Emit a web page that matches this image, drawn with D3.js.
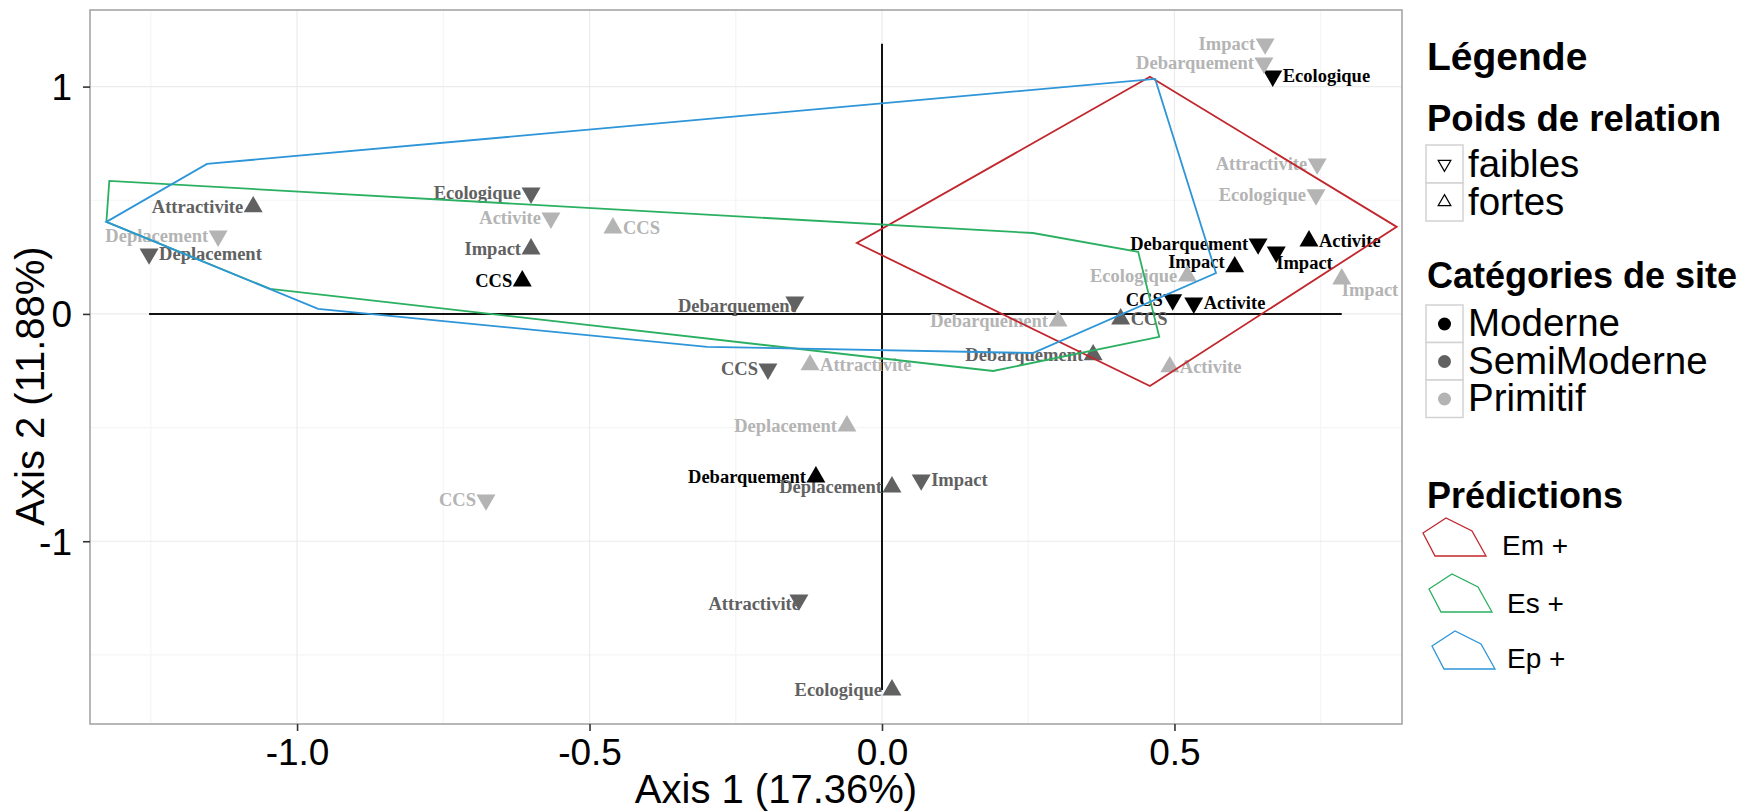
<!DOCTYPE html>
<html>
<head>
<meta charset="utf-8">
<script src="https://cdn.jsdelivr.net/npm/d3@7"></script>
<style>
  body { margin: 0; background: #fff; }
  svg { display: block; }
</style>
</head>
<body>
<svg width="1744" height="812"></svg>
<script>
// one entry per plotted variable level
const pointNames = [
  'CCS', 'Debarquement', 'Impact', 'Activite', 'Impact', 'CCS', 'Activite', 'Ecologique', 'Debarquement',
  'Attractivite', 'Deplacement', 'Ecologique', 'Impact', 'Debarquement', 'CCS', 'CCS', 'Debarquement',
  'Deplacement', 'Impact', 'Attractivite', 'Ecologique',
  'Deplacement', 'Activite', 'CCS', 'Attractivite', 'Debarquement', 'Impact', 'Debarquement', 'Attractivite',
  'Ecologique', 'Ecologique', 'Impact', 'Activite', 'CCS', 'Deplacement'
];
const pointSites = [
  'Moderne', 'Moderne', 'Moderne', 'Moderne', 'Moderne', 'Moderne', 'Moderne', 'Moderne', 'Moderne',
  'SemiModerne', 'SemiModerne', 'SemiModerne', 'SemiModerne', 'SemiModerne', 'SemiModerne', 'SemiModerne',
  'SemiModerne', 'SemiModerne', 'SemiModerne', 'SemiModerne', 'SemiModerne',
  'Primitif', 'Primitif', 'Primitif', 'Primitif', 'Primitif', 'Primitif', 'Primitif', 'Primitif',
  'Primitif', 'Primitif', 'Primitif', 'Primitif', 'Primitif', 'Primitif'
];
const pointWeights = [
  'fortes', 'faibles', 'faibles', 'fortes', 'fortes', 'faibles', 'faibles', 'faibles', 'fortes',
  'fortes', 'faibles', 'faibles', 'fortes', 'faibles', 'faibles', 'fortes', 'fortes',
  'fortes', 'faibles', 'faibles', 'fortes',
  'faibles', 'faibles', 'fortes', 'fortes', 'fortes', 'faibles', 'faibles', 'faibles',
  'faibles', 'fortes', 'fortes', 'fortes', 'faibles', 'fortes'
];
const axis1 = [
  -0.615, 0.643, 0.674, 0.730, 0.603, 0.497, 0.533, 0.668, -0.113,
  -1.075, -1.253, -0.600, -0.600, -0.149, -0.195, 0.408, 0.361,
  0.017, 0.067, -0.142, 0.017,
  -1.135, -0.566, -0.460, -0.123, 0.301, 0.655, 0.653, 0.744,
  0.742, 0.522, 0.786, 0.492, -0.677, -0.060
];
const axis2 = [
  0.145, 0.308, 0.272, 0.321, 0.207, 0.062, 0.048, 1.047, -0.717,
  0.471, 0.264, 0.532, 0.286, 0.053, -0.242, -0.022, -0.180,
  -0.761, -0.730, -1.258, -1.654,
  0.343, 0.422, 0.378, -0.224, -0.031, 1.188, 1.104, 0.660,
  0.524, 0.167, 0.154, -0.233, -0.818, -0.493
];
// label justification, like hjust/vjust in the original plot
const labelSide = [
  'l', 'l', 'rd', 'r', 'lu', 'l', 'r', 'r', 'l',
  'l', 'r', 'l', 'l', 'ld', 'l', 'r', 'l',
  'l', 'r', 'ld', 'l',
  'l', 'l', 'r', 'r', 'l', 'l', 'l', 'l',
  'l', 'l', 'rd', 'r', 'l', 'l'
];

// convex hulls of the predictions
const hullNames = ['Em +', 'Es +', 'Ep +'];
const hullEm = [[0.458, 1.043], [0.880, 0.383], [0.458, -0.317], [-0.043, 0.312]];
const hullEs = [[-1.321, 0.585], [-1.326, 0.405], [-1.046, 0.110], [0.190, -0.251],
  [0.474, -0.101], [0.438, 0.273], [0.258, 0.356]];
const hullEp = [[-1.326, 0.405], [-1.154, 0.660], [0.467, 1.034], [0.571, 0.180],
  [0.258, -0.172], [-0.299, -0.145], [-0.964, 0.022]];

const xTicks = [-1.0, -0.5, 0.0, 0.5];
const xTickLabels = ['-1.0', '-0.5', '0.0', '0.5'];
const xMinorTicks = [-1.25, -0.75, -0.25, 0.25, 0.75];
const yTicks = [-1, 0, 1];
const yTickLabels = ['-1', '0', '1'];
const yMinorTicks = [-1.5, -0.5, 0.5];

const siteNames = ['Moderne', 'SemiModerne', 'Primitif'];
const weightNames = ['faibles', 'fortes'];

function createChart() {
  const svg = d3.select('svg');
  const left = 90, right = 1402, top = 10, bottom = 724;

  const xScale = d3.scaleLinear()
      .domain([-1.354, 0.889])
      .range([left, right]);
  const yScale = d3.scaleLinear()
      .domain([-1.804, 1.337])
      .range([bottom, top]);
  const siteColor = d3.scaleOrdinal()
      .domain(siteNames)
      .range(['#000000', '#616161', '#b4b4b4']);
  const hullColor = d3.scaleOrdinal()
      .domain(hullNames)
      .range(['#c1272d', '#2bb062', '#2d95d8']);

  const points = pointNames.map((name, i) => ({
    name: name,
    site: pointSites[i],
    weight: pointWeights[i],
    x: axis1[i],
    y: axis2[i],
    side: labelSide[i]
  }));

  const chart = svg.append('g').attr('class', 'chart');

  // grid
  const grid = chart.append('g').attr('class', 'grid');
  grid.selectAll('line.minorx')
      .data(xMinorTicks)
      .join('line')
      .attr('x1', d => xScale(d)).attr('x2', d => xScale(d))
      .attr('y1', top).attr('y2', bottom)
      .attr('stroke', '#f5f5f5').attr('stroke-width', 1.2);
  grid.selectAll('line.minory')
      .data(yMinorTicks)
      .join('line')
      .attr('x1', left).attr('x2', right)
      .attr('y1', d => yScale(d)).attr('y2', d => yScale(d))
      .attr('stroke', '#f5f5f5').attr('stroke-width', 1.2);
  grid.selectAll('line.majorx')
      .data(xTicks)
      .enter().append('line')
      .attr('x1', d => xScale(d)).attr('x2', d => xScale(d))
      .attr('y1', top).attr('y2', bottom)
      .attr('stroke', '#ebebeb').attr('stroke-width', 1.2);
  grid.selectAll('line.majory')
      .data(yTicks)
      .enter().append('line')
      .attr('x1', left).attr('x2', right)
      .attr('y1', d => yScale(d)).attr('y2', d => yScale(d))
      .attr('stroke', '#ebebeb').attr('stroke-width', 1.2);

  // reference lines across the range of the points
  const xExt = d3.extent(points, d => d.x);
  const yExt = d3.extent(points, d => d.y);
  chart.append('line')
      .attr('x1', xScale(xExt[0])).attr('x2', xScale(xExt[1]))
      .attr('y1', yScale(0)).attr('y2', yScale(0))
      .attr('stroke', '#111').attr('stroke-width', 2);
  chart.append('line')
      .attr('x1', xScale(0)).attr('x2', xScale(0))
      .attr('y1', yScale(yExt[1])).attr('y2', yScale(yExt[0]))
      .attr('stroke', '#111').attr('stroke-width', 2);

  // labels
  chart.append('g')
      .selectAll('text')
      .data(points)
      .join('text')
      .attr('x', d => {
        const px = xScale(d.x);
        if (d.side === 'l' || d.side === 'lu') return px - 10;
        if (d.side === 'ld') return px + 1;
        if (d.side === 'rd') return px;
        return px + 10;
      })
      .attr('y', d => {
        const py = yScale(d.y);
        if (d.side === 'ld') return py + 10;
        if (d.side === 'rd') return py + 17;
        if (d.side === 'lu') return py + 1;
        return py + 6;
      })
      .attr('text-anchor', d => d.side[0] === 'l' ? 'end' : 'start')
      .style('font-family', '"Liberation Serif", "Times New Roman", serif')
      .style('font-weight', 'bold')
      .style('font-size', '18.5px')
      .attr('fill', d => siteColor(d.site))
      .text(d => d.name);

  // markers
  const triangle = d3.symbol().type(d3.symbolTriangle).size(156);
  chart.append('g')
      .selectAll('path')
      .data(points)
      .join('path')
      .attr('d', triangle)
      .attr('transform', d => `translate(${xScale(d.x)}, ${yScale(d.y)})` +
          (d.weight === 'faibles' ? ' rotate(180)' : ''))
      .attr('fill', d => siteColor(d.site));

  // hulls
  const hullLine = d3.line()
      .x(d => xScale(d[0]))
      .y(d => yScale(d[1]))
      .curve(d3.curveLinearClosed);
  [hullEm, hullEs, hullEp].forEach((hull, i) => {
    chart.append('path')
        .attr('d', hullLine(hull))
        .attr('fill', 'none')
        .attr('stroke', hullColor(hullNames[i]))
        .attr('stroke-width', 1.8);
  });

  // panel border
  chart.append('rect')
      .attr('x', left).attr('y', top)
      .attr('width', right - left).attr('height', bottom - top)
      .attr('fill', 'none')
      .attr('stroke', '#a6a6a6')
      .attr('stroke-width', 1.6);

  // axes
  const xAxis = d3.axisBottom(xScale)
      .tickValues(xTicks)
      .tickFormat((d, i) => xTickLabels[i])
      .tickSize(7)
      .tickPadding(6);
  const xAxisG = svg.append('g')
      .attr('transform', `translate(0, ${bottom})`)
      .call(xAxis);
  const yAxis = d3.axisLeft(yScale)
      .tickValues(yTicks)
      .tickFormat((d, i) => yTickLabels[i])
      .tickSize(7)
      .tickPadding(11);
  const yAxisG = svg.append('g')
      .attr('transform', `translate(${left}, 0)`)
      .call(yAxis);
  [xAxisG, yAxisG].forEach(g => {
    g.select('.domain').remove();
    g.selectAll('.tick line').attr('stroke', '#333').attr('stroke-width', 1.6);
    g.selectAll('.tick text')
        .attr('fill', '#000')
        .style('font-family', '"Liberation Sans", Arial, sans-serif')
        .style('font-size', '37px');
  });
  xAxisG.selectAll('.tick text').attr('y', 41).attr('dy', null);
  yAxisG.selectAll('.tick text').attr('dy', '0.35em');

  svg.append('text')
      .attr('x', 776).attr('y', 803)
      .attr('text-anchor', 'middle')
      .style('font-family', '"Liberation Sans", Arial, sans-serif')
      .style('font-size', '40px')
      .text('Axis 1 (17.36%)');
  svg.append('text')
      .attr('transform', 'translate(44, 386) rotate(-90)')
      .attr('text-anchor', 'middle')
      .style('font-family', '"Liberation Sans", Arial, sans-serif')
      .style('font-size', '40px')
      .text('Axis 2 (11.88%)');

  drawLegend(svg, siteColor, hullColor);
}

function drawLegend(svg, siteColor, hullColor) {
  const lx = 1427;
  const legend = svg.append('g')
      .attr('class', 'legend')
      .style('font-family', '"Liberation Sans", Arial, sans-serif');

  legend.append('text')
      .attr('x', lx).attr('y', 70)
      .style('font-size', '39px').style('font-weight', 'bold')
      .text('Légende');

  // weights
  legend.append('text')
      .attr('x', lx).attr('y', 131)
      .style('font-size', '36.5px').style('font-weight', 'bold')
      .text('Poids de relation');
  const shapeKeys = legend.selectAll('g.shape')
      .data(weightNames)
      .join('g')
      .attr('transform', (d, i) => `translate(${lx - 1}, ${145 + i * 38})`);
  shapeKeys.append('rect')
      .attr('width', 37).attr('height', 38)
      .attr('fill', '#fff').attr('stroke', '#d2d2d2').attr('stroke-width', 1.5);
  shapeKeys.append('path')
      .attr('d', d3.symbol().type(d3.symbolTriangle).size(70))
      .attr('transform', d => 'translate(18.5, 19)' + (d === 'faibles' ? ' rotate(180)' : ''))
      .attr('fill', 'none').attr('stroke', '#000').attr('stroke-width', 1.2);
  shapeKeys.append('text')
      .attr('x', 42).attr('y', 32)
      .style('font-size', '38.5px')
      .text(d => d);

  // site categories
  legend.append('text')
      .attr('x', lx).attr('y', 288)
      .style('font-size', '36px').style('font-weight', 'bold')
      .text('Catégories de site');
  const siteKeys = legend.selectAll('g.site')
      .data(siteNames)
      .join('g')
      .attr('transform', (d, i) => `translate(${lx - 1}, ${305 + i * 37.5})`);
  siteKeys.append('rect')
      .attr('width', 37).attr('height', 37.5)
      .attr('fill', '#fff').attr('stroke', '#d2d2d2').attr('stroke-width', 1.5);
  siteKeys.append('circle')
      .attr('cx', 18.5).attr('cy', 19).attr('r', 6.5)
      .attr('fill', d => siteColor(d));
  siteKeys.append('text')
      .attr('x', 42).attr('y', 31)
      .style('font-size', '38.5px')
      .text(d => d);

  // predictions
  legend.append('text')
      .attr('x', lx).attr('y', 508)
      .style('font-size', '36px').style('font-weight', 'bold')
      .text('Prédictions');
  const pentagon = [[0, 15], [23, 0], [49, 13], [63, 38], [12, 38]];
  const keyOffsets = [[1423, 518], [1429, 574], [1432, 631]];
  const labelOffsets = [[1502, 555], [1507, 613], [1507, 668]];
  hullNames.forEach((name, i) => {
    legend.append('path')
        .attr('d', d3.line().curve(d3.curveLinearClosed)(pentagon))
        .attr('transform', `translate(${keyOffsets[i][0]}, ${keyOffsets[i][1]})`)
        .attr('fill', 'none')
        .attr('stroke', hullColor(name))
        .attr('stroke-width', 1.3);
    legend.append('text')
        .attr('x', labelOffsets[i][0]).attr('y', labelOffsets[i][1])
        .style('font-size', '28px')
        .text(name);
  });
}

createChart();
</script>
</body>
</html>
